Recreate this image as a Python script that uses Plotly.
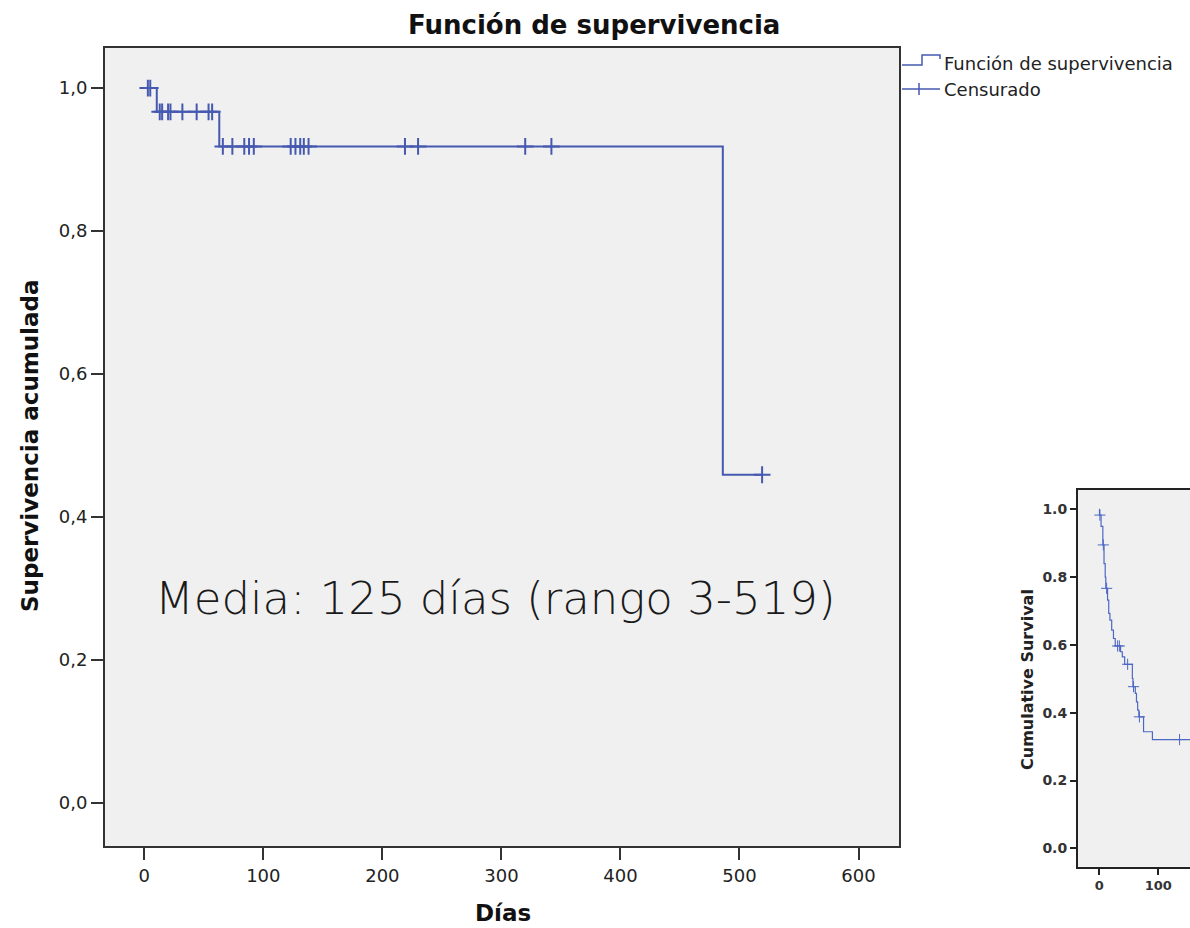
import numpy as np
import plotly.graph_objects as go

# ---------------- data ----------------
# Main Kaplan-Meier curve (days vs cumulative survival)
event_days = [10.5, 63, 486]
event_surv = [0.9667, 0.9183, 0.4592]
censor_days = [3, 5, 13, 15, 20, 22, 32, 44, 54, 57,
               66, 74, 84, 88, 92, 123, 127, 131, 134, 138,
               219, 230, 320, 342, 519]
x_ticks = [0, 100, 200, 300, 400, 500, 600]
y_ticks = [0.0, 0.2, 0.4, 0.6, 0.8, 1.0]
y_ticktext = ["0,0", "0,2", "0,4", "0,6", "0,8", "1,0"]

# Small comparison curve (lower right)
inset_event_days = [0.3, 3, 6, 8, 10, 11, 14, 16, 18, 21, 24, 27, 36, 39, 43,
                    56, 57, 61, 63, 65, 67, 75, 90]
inset_event_surv = [0.983, 0.95, 0.895, 0.84, 0.80, 0.767, 0.732, 0.693, 0.673,
                    0.644, 0.619, 0.597, 0.58, 0.565, 0.543, 0.501, 0.477,
                    0.457, 0.432, 0.408, 0.388, 0.344, 0.321]
inset_censor_days = [1, 6.8, 12.4, 31, 34, 48, 58, 68, 136]
inset_end_day = 170
inset_y_ticks = [0.0, 0.2, 0.4, 0.6, 0.8, 1.0]
inset_x_ticks = [0, 100, 200]

W, H = 1190, 928


def px(x):
    return x / W


def py(y):
    return 1 - y / H


def surv_at(t, days, surv):
    s = 1.0
    for d, v in zip(days, surv):
        if d <= t:
            s = v
    return s


def step_xy(days, surv, end):
    xs = [0] + list(days) + [end]
    ys = [1.0] + list(surv) + [surv[-1]]
    return xs, ys


BLUE = "#4659b0"
INSET_BLUE = "#4d68c4"
FRAME = "#333333"
SPSS_FONT = "DejaVu Sans"

fig = go.Figure()

mx, my = step_xy(event_days, event_surv, censor_days[-1])
fig.add_trace(go.Scatter(x=mx, y=my, mode="lines", line=dict(color=BLUE, width=2, shape="hv"),
                         xaxis="x", yaxis="y", hoverinfo="skip"))
fig.add_trace(go.Scatter(x=censor_days,
                         y=[surv_at(t, event_days, event_surv) for t in censor_days],
                         mode="markers",
                         marker=dict(symbol="cross-thin", size=12, line=dict(color=BLUE, width=2)),
                         xaxis="x", yaxis="y", hoverinfo="skip"))

ix, iy = step_xy(inset_event_days, inset_event_surv, inset_end_day)
fig.add_trace(go.Scatter(x=ix, y=iy, mode="lines", line=dict(color=INSET_BLUE, width=1.2, shape="hv"),
                         xaxis="x2", yaxis="y2", hoverinfo="skip"))
fig.add_trace(go.Scatter(x=inset_censor_days,
                         y=[surv_at(t, inset_event_days, inset_event_surv) for t in inset_censor_days],
                         mode="markers",
                         marker=dict(symbol="cross-thin", size=8, line=dict(color=INSET_BLUE, width=1)),
                         xaxis="x2", yaxis="y2", hoverinfo="skip"))

axis_common = dict(showgrid=False, zeroline=False, showline=True, ticks="outside")

fig.update_layout(
    width=W, height=H,
    margin=dict(l=0, r=0, t=0, b=0),
    paper_bgcolor="white",
    plot_bgcolor="#f0f0f0",
    showlegend=False,
    xaxis=dict(**axis_common, domain=[px(105), px(899)], range=[-33, 634], anchor="y",
               tickvals=x_ticks, ticklen=12, tickwidth=2, tickcolor=FRAME,
               linewidth=2, linecolor=FRAME, mirror=True,
               tickfont=dict(family=SPSS_FONT, size=18, color="#222")),
    yaxis=dict(**axis_common, domain=[py(846), py(48)], range=[-0.06, 1.056], anchor="x",
               tickvals=y_ticks, ticktext=y_ticktext, ticklen=12, tickwidth=2, tickcolor=FRAME,
               linewidth=2, linecolor=FRAME, mirror=True,
               tickfont=dict(family=SPSS_FONT, size=18, color="#222")),
    xaxis2=dict(**axis_common, domain=[px(1078), 1.0], range=[-36.1, 153.7], anchor="y2",
                tickvals=inset_x_ticks, ticklen=6, tickwidth=2, tickcolor="#222",
                linewidth=2, linecolor="#222", mirror=True,
                tickfont=dict(family=SPSS_FONT, size=13, color="#333", weight="bold")),
    yaxis2=dict(**axis_common, domain=[py(866.7), py(490)], range=[-0.054, 1.057], anchor="x2",
                tickvals=inset_y_ticks, tickformat=".1f", ticklen=6, tickwidth=2, tickcolor="#222",
                linewidth=2, linecolor="#222", mirror=False,
                tickfont=dict(family=SPSS_FONT, size=14, color="#333", weight="bold")),
)

annotations = [
    dict(text="Función de supervivencia", x=px(594), y=py(25), xanchor="center", yanchor="middle",
         font=dict(family=SPSS_FONT, size=26, color="#111", weight="bold")),
    dict(text="Días", x=px(503), y=py(913), xanchor="center", yanchor="middle",
         font=dict(family=SPSS_FONT, size=23, color="#111", weight="bold")),
    dict(text="Supervivencia acumulada", x=px(30), y=py(446), xanchor="center", yanchor="middle",
         textangle=-90, font=dict(family=SPSS_FONT, size=23, color="#111", weight="bold")),
    dict(text="Función de supervivencia", x=px(942), y=py(63), xanchor="left", yanchor="middle",
         font=dict(family=SPSS_FONT, size=18, color="#222")),
    dict(text="Censurado", x=px(942), y=py(89), xanchor="left", yanchor="middle",
         font=dict(family=SPSS_FONT, size=18, color="#222")),
    dict(text="Media: 125 días (rango 3-519)", x=px(495), y=py(598), xanchor="center", yanchor="middle",
         font=dict(family=SPSS_FONT, size=45, color="#1a1a1a", weight=200)),
    dict(text="Cumulative Survival", x=px(1027), y=py(680), xanchor="center", yanchor="middle",
         textangle=-90, font=dict(family=SPSS_FONT, size=16, color="#222", weight="bold")),
]
for a in annotations:
    a.update(xref="paper", yref="paper", showarrow=False)
fig.update_layout(annotations=annotations)

# Legend glyphs: step symbol for the survival function, line with cross for censored
step_path = "M {},{} H {} V {} H {} V {}".format(px(902), py(65), px(922), py(55), px(940), py(59))
shapes = [
    dict(type="path", path=step_path, line=dict(color=BLUE, width=1.5)),
    dict(type="line", x0=px(902), x1=px(940), y0=py(89), y1=py(89), line=dict(color=BLUE, width=1.5)),
    dict(type="line", x0=px(919), x1=px(919), y0=py(83), y1=py(95), line=dict(color=BLUE, width=1.5)),
]
for s in shapes:
    s.update(xref="paper", yref="paper")
fig.update_layout(shapes=shapes)

fig.write_html("out.html")
